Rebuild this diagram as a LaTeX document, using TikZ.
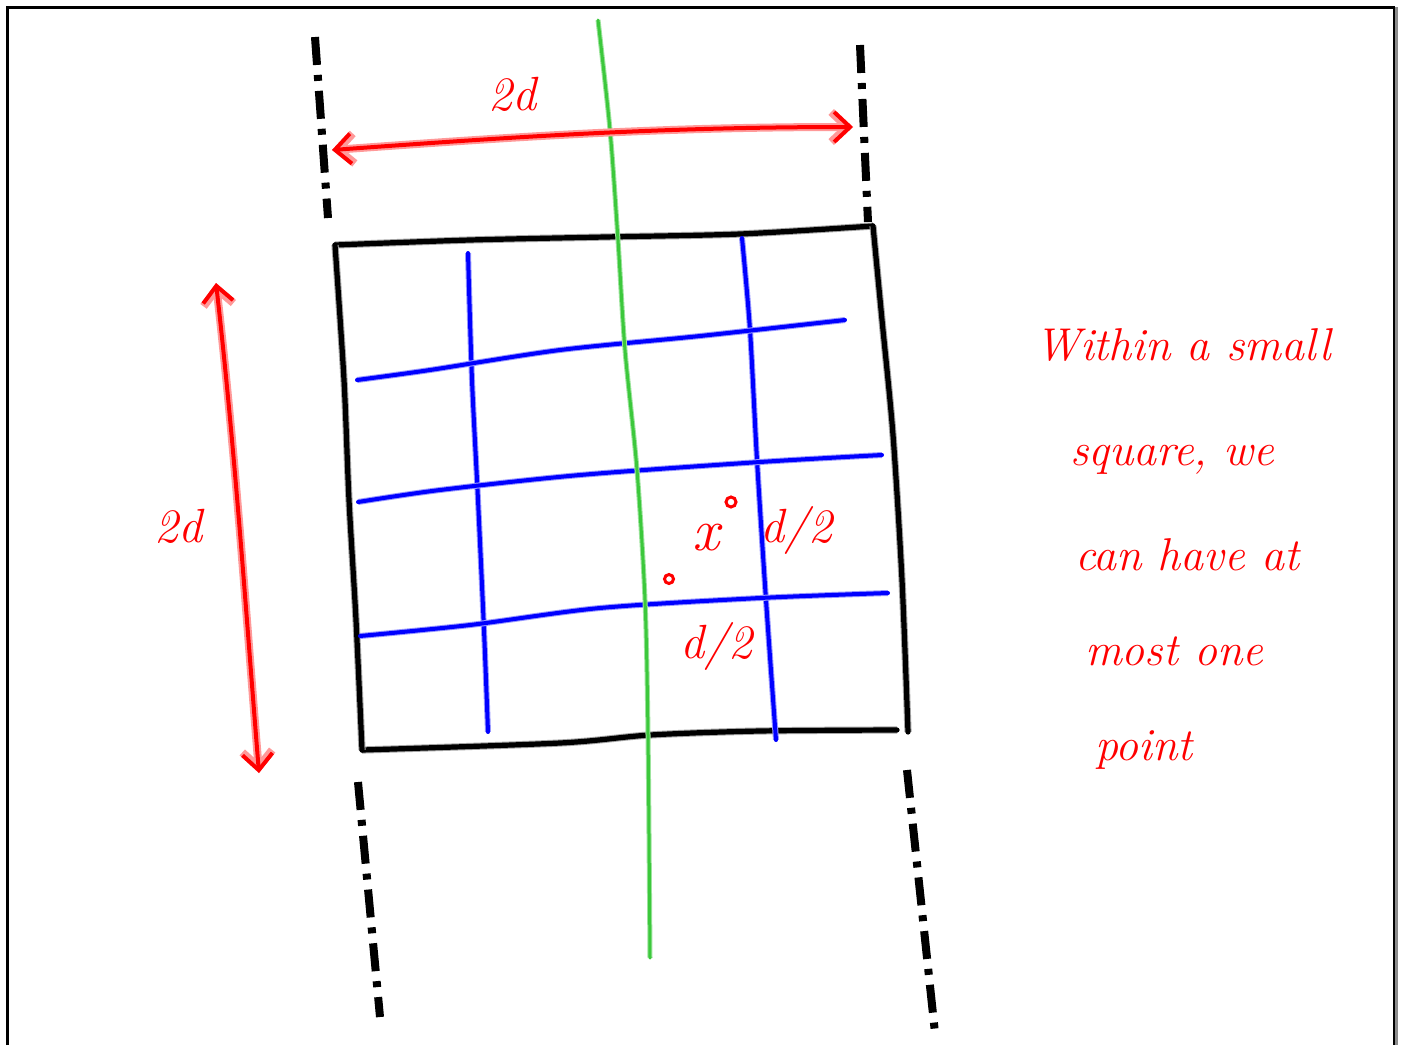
\documentclass[tikz,border=0pt]{standalone}
\usepackage{tikz}
\usetikzlibrary{arrows.meta}
\definecolor{penred}{RGB}{255,0,0}
\definecolor{pengreen}{RGB}{60,200,60}
\begin{document}
\begin{tikzpicture}[x=0.5pt,y=-0.5pt,
    redpen/.style={penred,line width=2pt,line cap=round,line join=round,
      preaction={draw=penred!40,line width=4pt}},
    redtip/.style={{Straight Barb[length=8pt,width=15pt]}-{Straight Barb[length=8pt,width=15pt]}},
    boxpen/.style={black,line width=2.6pt,line cap=round,line join=round,
      preaction={draw=black!35,line width=3.6pt}},
    gridpen/.style={blue,line width=2pt,line cap=round,
      preaction={draw=blue!40,line width=3pt}},
    axispen/.style={pengreen,line width=1.5pt,line cap=round,
      preaction={draw=pengreen!50,line width=2.5pt}},
    cutline/.style={black,line width=4pt,dash pattern=on 14pt off 5pt on 3pt off 5pt},
    hand/.style={penred,font=\fontsize{24}{28}\selectfont\itshape},
    note/.style={penred,anchor=base west,font=\fontsize{23}{28}\selectfont\itshape}]
  \useasboundingbox (0,0) rectangle (1403,1045);
  \fill[white] (0,0) rectangle (1403,1045);
  % page frame
  \draw[line width=1.5pt] (7,1045) -- (7,7) -- (1395,7);
  \draw[black!45,line width=2pt] (1396,7) -- (1396,1045);
  \draw[line width=1pt] (1394,7) -- (1394,1045);
  % strip edges
  \draw[cutline] (315,37) -- (328,218);
  \draw[cutline] (860,45) -- (868,222);
  \draw[cutline] (358,782) -- (380,1017);
  \draw[cutline] (907,770) -- (935,1033);
  % the square
  \draw[boxpen] plot[smooth] coordinates {(335,245) (470,240) (605,237) (740,234) (873,226)};
  \draw[boxpen] plot[smooth] coordinates {(873,226) (882,320) (893,435) (902,580) (908,732)};
  \draw[boxpen] plot[smooth] coordinates {(897,730) (760,731) (650,735) (560,743) (362,750)};
  \draw[boxpen] plot[smooth] coordinates {(362,750) (356,620) (349,500) (344,380) (335,245)};
  % small squares
  \draw[gridpen] plot[smooth] coordinates {(468,253) (472,380) (478,500) (484,630) (488,732)};
  \draw[gridpen] plot[smooth] coordinates {(742,238) (750,330) (757,460) (766,600) (776,740)};
  \draw[gridpen] plot[smooth] coordinates {(357,380) (430,370) (560,350) (700,336) (845,320)};
  \draw[gridpen] plot[smooth] coordinates {(358,502) (440,490) (580,475) (760,462) (882,455)};
  \draw[gridpen] plot[smooth] coordinates {(360,636) (470,625) (600,608) (760,598) (888,593)};
  % middle line
  \draw[axispen] plot[smooth] coordinates {(598,20) (610,130) (618,240) (625,350) (637,470) (645,600) (648,735) (650,958)};
  % widths
  \coordinate (wl) at (332,150);
  \coordinate (wr) at (853,127);
  \coordinate (ht) at (216,283);
  \coordinate (hb) at (259,773);
  \draw[redpen,redtip] (wl) .. controls (500,138) and (650,127) .. (wr);
  \draw[redpen,redtip] (ht) .. controls (235,450) and (245,600) .. (hb);
  \node[hand] (topw) at (512,94) {2d};
  \node[hand] (leftw) at (178,526) {2d};
  % point and halves
  \node[hand,font=\fontsize{30}{30}\selectfont\itshape] (xpt) at (706,538) {x};
  \draw[penred,line width=1.5pt] (731,502) circle (5);
  \draw[penred,line width=1.5pt] (669,579) circle (4.5);
  \node[hand] (half1) at (796,530) {d/2};
  \node[hand] (half2) at (716,646) {d/2};
  % remark
  \node[note] (line1) at (1028,360) {Within a small};
  \node[note] (line2) at (1063,465) {square, we};
  \node[note] (line3) at (1068,570) {can have at};
  \node[note] (line4) at (1078,665) {most one};
  \node[note] (line5) at (1088,760) {point};
\end{tikzpicture}
\end{document}
